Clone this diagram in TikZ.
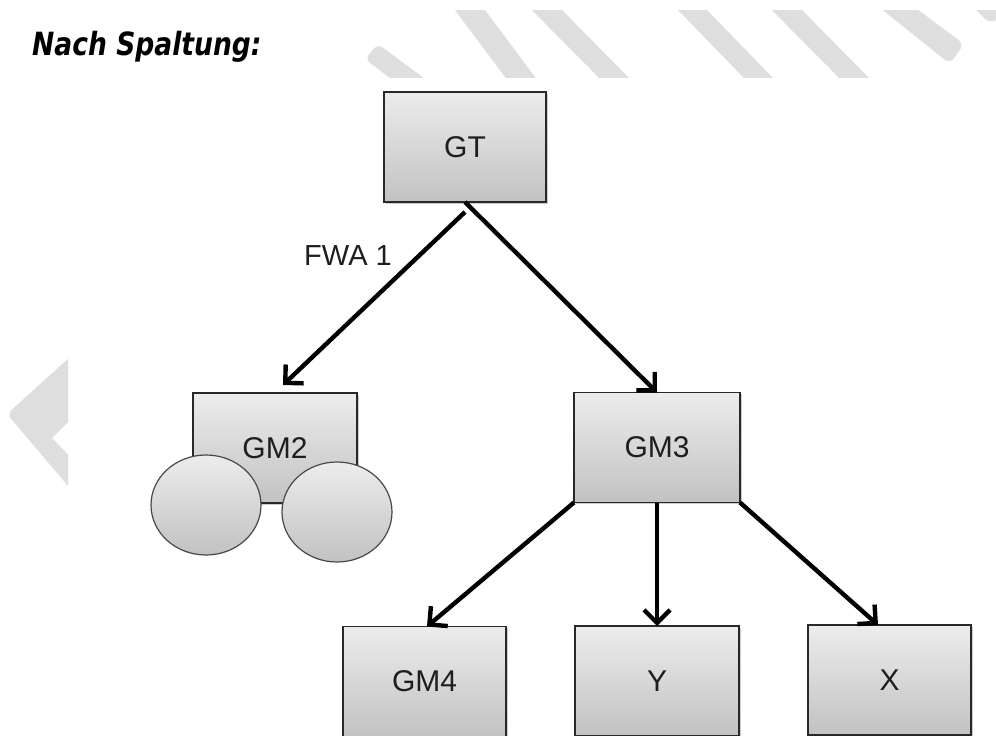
\documentclass[tikz,border=0pt]{standalone}
\usepackage{fontspec}
\setmainfont{Liberation Sans}
\newfontfamily\titlefont[FakeStretch=0.83]{DejaVu Sans}
\usetikzlibrary{arrows.meta,shapes.geometric,shadows}
\definecolor{wm}{RGB}{222,222,222}
\definecolor{boxtop}{RGB}{236,236,236}
\definecolor{boxbot}{RGB}{194,194,194}
\definecolor{txt}{RGB}{30,30,30}
\definecolor{edge}{RGB}{40,40,40}
\tikzset{
  gbox/.style={draw=edge, line width=1.5pt, top color=boxtop, bottom color=boxbot,
    minimum width=164pt, minimum height=110pt, inner sep=0pt, outer sep=0pt,
    font=\fontsize{30}{34}\selectfont, text=txt,
    drop shadow={shadow xshift=1.5pt, shadow yshift=-1.5pt, fill=black, opacity=0.2}},
  gcirc/.style={ellipse, draw=edge!85, line width=1.2pt, top color=boxtop, bottom color=boxbot,
    minimum width=110pt, minimum height=100pt, inner sep=0pt, outer sep=0pt},
  arr/.style={line width=4.4pt, -{Straight Barb[length=13pt,width=26pt]}, black},
  lbl/.style={font=\fontsize{29}{34}\selectfont, text=txt, inner sep=0pt}
}
\begin{document}
\begin{tikzpicture}[x=1pt,y=-1pt]
\useasboundingbox (0,0) rectangle (996,736);
\fill[white] (0,0) rectangle (996,736);
% watermark stripes
\begin{scope}
\clip (0,10) rectangle (996,77);
\fill[wm, rounded corners=6pt] (406,90) -- (365,59) -- (378,44) -- (440,90) -- cycle;
\fill[wm] (447.5,0) -- (477.5,0) -- (544.7,90) -- (514.7,90) -- cycle;
\fill[wm] (522,0) -- (552,0) -- (641,90) -- (611,90) -- cycle;
\fill[wm] (668.3,0) -- (697.3,0) -- (784.6,90) -- (755.6,90) -- cycle;
\fill[wm] (762,0) -- (792,0) -- (881,90) -- (851,90) -- cycle;
\fill[wm, rounded corners=7pt] (864,-5) -- (898,-5) -- (964,44) -- (950,64) -- cycle;
\fill[wm, rounded corners=5pt] (966,0) -- (1005,0) -- (1005,16) -- (989,23) -- cycle;
\end{scope}
\begin{scope}
\clip (0,340) rectangle (68,505);
\fill[wm, rounded corners=6pt] (80,348) -- (7,414) -- (80,500) [sharp corners] -- (80,467) -- (52,438) -- (80,410) -- cycle;
\end{scope}
% title
\node[anchor=base west, inner sep=0pt, text=black] (title) at (32,55)
  {\titlefont\fontsize{32}{36}\selectfont\bfseries\itshape Nach Spaltung:};
% boxes
\node[gbox, minimum width=162pt] (GT) at (465,147) {GT};
\node[gbox] (GM2) at (275,448) {GM2};
\node[gcirc] (c1) at (206,505) {};
\node[gcirc] (c2) at (337,512) {};
\node[gbox, minimum width=166pt] (GM3) at (657,447.5) {GM3};
\node[gbox, minimum width=163pt] (GM4) at (424.5,681.5) {GM4};
\node[gbox] (Y) at (657,681) {Y};
\node[gbox, minimum width=163pt] (X) at (889.5,680) {X};
% label
\node[lbl] (fwa) at (348,256) {FWA 1};
% connectors
\draw[arr] ([yshift=-10pt]GT.south) -- ([xshift=8pt,yshift=8pt]GM2.north);
\draw[arr] (GT.south) -- (GM3.north);
\draw[arr] (GM3.south west) -- ([xshift=2.5pt]GM4.north);
\draw[arr] (GM3.south) -- (Y.north);
\draw[arr] (GM3.south east) -- ([xshift=-11.5pt]X.north);
\end{tikzpicture}
\end{document}
